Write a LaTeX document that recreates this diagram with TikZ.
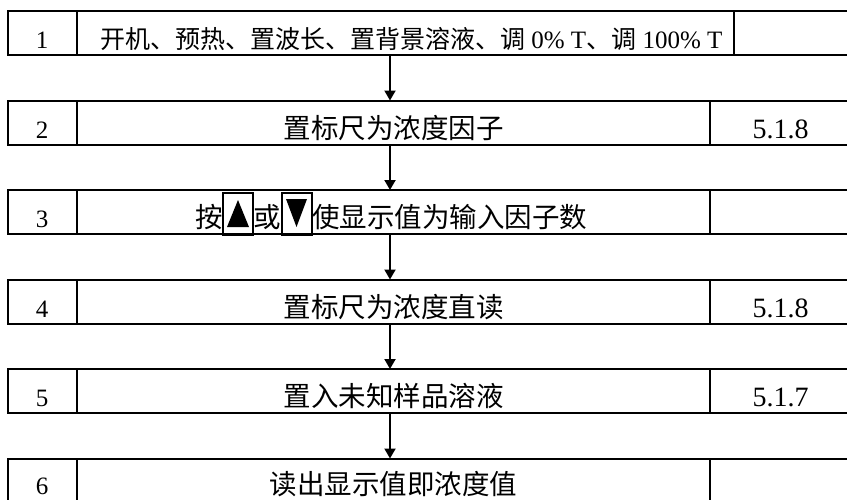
\documentclass[tikz,border=0pt]{standalone}
\usepackage{fontspec}
\setmainfont{Liberation Serif}
\newfontfamily\cjk{Noto Sans CJK SC}
\usetikzlibrary{arrows.meta}
\begin{document}
\begin{tikzpicture}[x=1pt,y=-1pt,
  cell/.style={draw, line width=2pt, inner sep=0pt, outer sep=0pt, minimum height=44pt, anchor=north west},
  txt/.style={inner sep=0pt, anchor=base, font=\cjk\fontsize{27.5}{30}\selectfont},
  num/.style={inner sep=0pt, anchor=base, font=\fontsize{25}{28}\selectfont},
  refno/.style={inner sep=0pt, anchor=base, font=\fontsize{28}{30}\selectfont},
  keybox/.style={draw, line width=2pt, minimum width=30pt, minimum height=42pt, inner sep=0pt},
  arr/.style={line width=2pt, -{Triangle[width=11pt,length=10pt]}}]
\useasboundingbox (0,0) rectangle (847,499);
\clip (0,0) rectangle (847,499);
% row 1
\node[cell, minimum width=69.5pt] (n1) at (7.5,11) {};
\node[cell, minimum width=657pt] (t1) at (77,11) {};
\node[cell, minimum width=117pt] (r1) at (734,11) {};
% rows 2-6
\foreach \i in {2,...,6} {
  \pgfmathsetmacro\rowtop{11+89.5*(\i-1)}
  \node[cell, minimum width=69.5pt] (n\i) at (7.5,\rowtop) {};
  \node[cell, minimum width=633pt] (t\i) at (77,\rowtop) {};
  \node[cell, minimum width=141pt] (r\i) at (710,\rowtop) {};
}
% numbers
\node[num] (l1) at (42,48.5) {1};
\node[num] (l2) at (42,138) {2};
\node[num] (l3) at (42,227.5) {3};
\node[num] (l4) at (42,317) {4};
\node[num] (l5) at (42,406.5) {5};
\node[num] (l6) at (42,494.5) {6};
% texts
\node[inner sep=0pt, anchor=base west, font=\fontsize{25}{28}\selectfont] (x1) at (100,48.5)
  {{\cjk 开机、预热、置波长、置背景溶液、调} 0\% T{\cjk 、调} 100\% T};
\node[txt] (x2) at (393.5,138) {置标尺为浓度因子};
\node[txt, anchor=base west] (x3a) at (195,227.5) {按};
\node[keybox] (k1) at (238,214) {};
\node[txt, anchor=base west] (x3b) at (253.5,227.5) {或};
\node[keybox] (k2) at (296.5,214) {};
\node[txt, anchor=base west] (x3c) at (312,227.5) {使显示值为输入因子数};
\fill (238,200) -- (249,227) -- (227,227) -- cycle;
\fill (296.5,227) -- (307,199) -- (286,199) -- cycle;
\node[txt] (x4) at (393.5,317) {置标尺为浓度直读};
\node[txt] (x5) at (393.5,406.5) {置入未知样品溶液};
\node[txt] (x6) at (393.5,494.5) {读出显示值即浓度值};
% references
\node[refno] (v2) at (780.5,138) {5.1.8};
\node[refno] (v4) at (780.5,317) {5.1.8};
\node[refno] (v5) at (780.5,406.5) {5.1.7};
% arrows
\coordinate (ax) at (390,0);
\foreach \a/\b in {t1/t2,t2/t3,t3/t4,t4/t5,t5/t6}
  \draw[arr] (\a.south -| ax) -- (\b.north -| ax);
\end{tikzpicture}
\end{document}
